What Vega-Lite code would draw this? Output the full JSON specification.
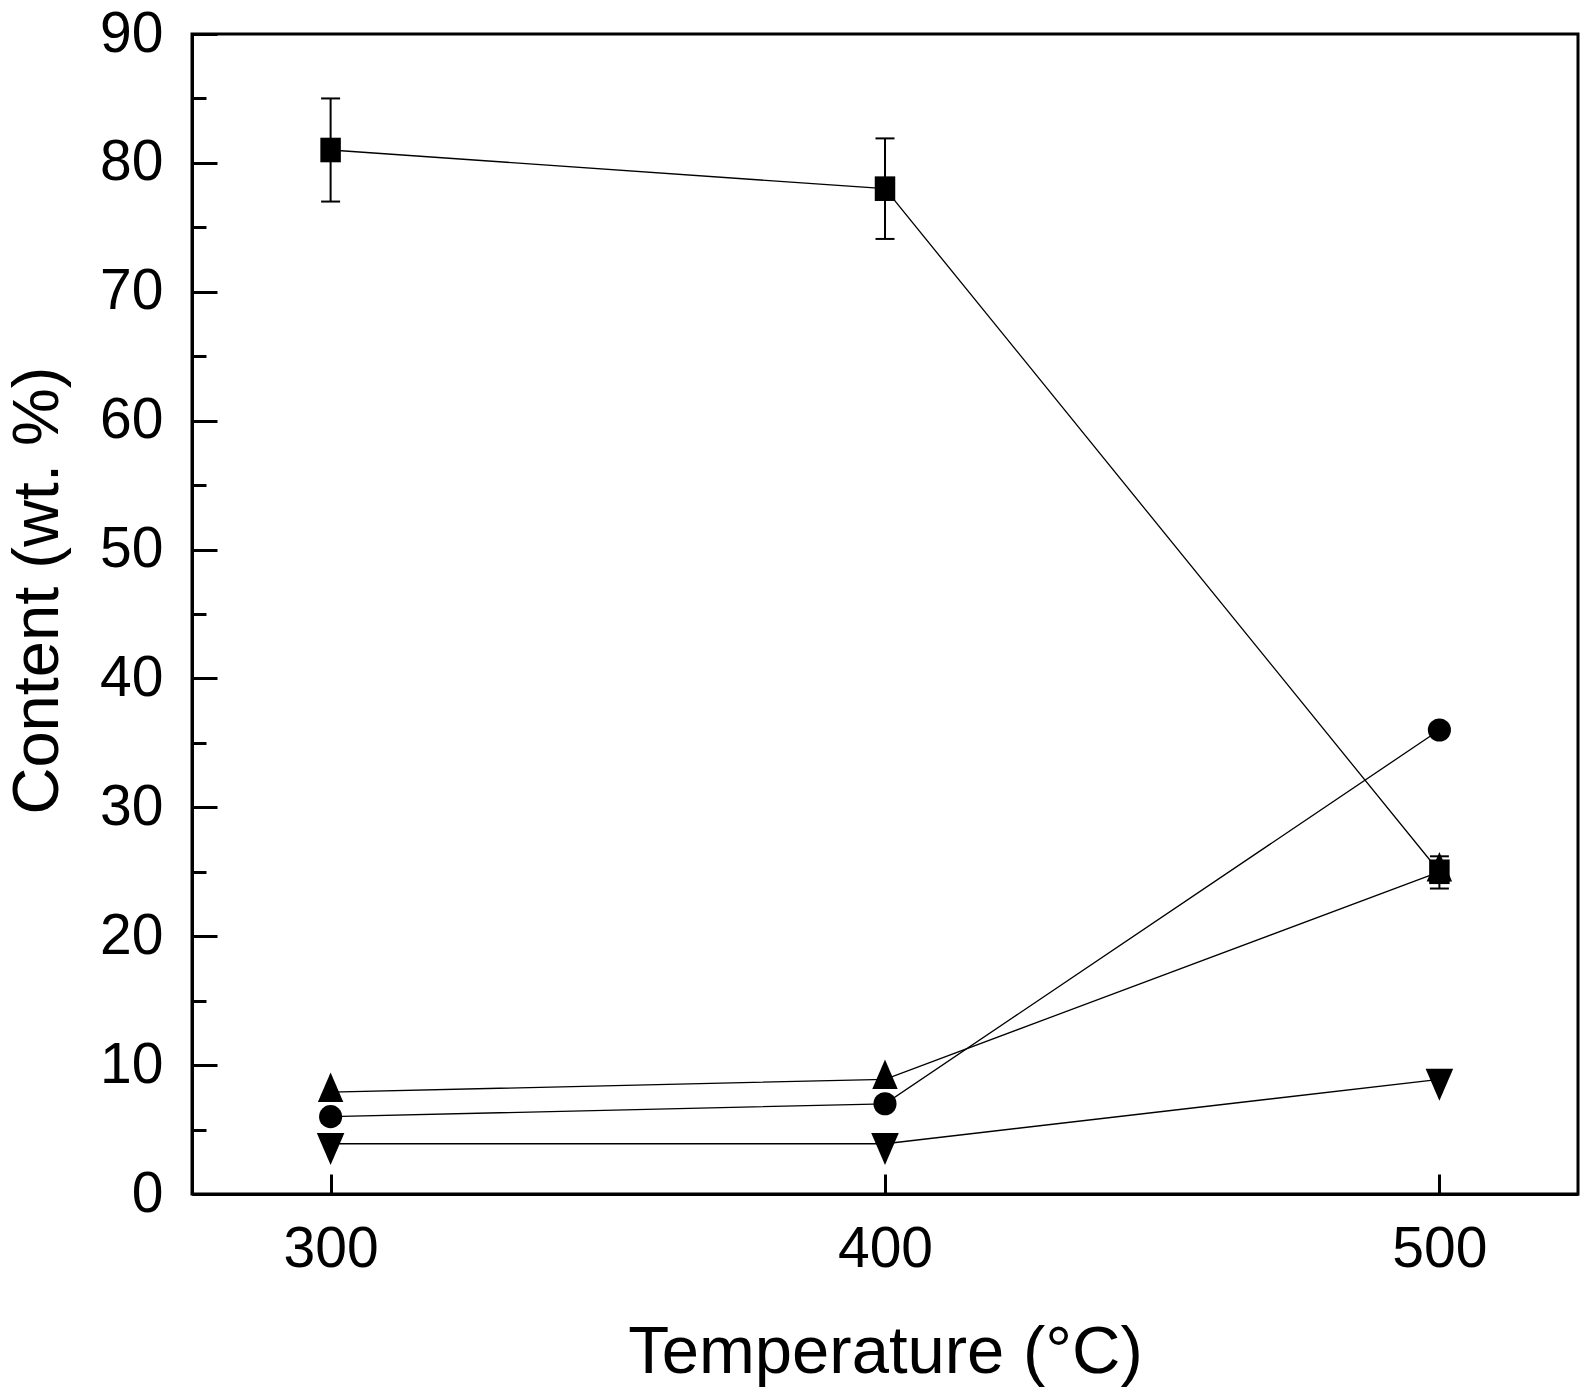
{
  "$schema": "https://vega.github.io/schema/vega-lite/v6.json",
  "width": 1386,
  "height": 1160,
  "autosize": {"type": "none"},
  "padding": {"left": 192, "top": 34, "right": 13, "bottom": 199},
  "background": "white",
  "config": {
    "view": {"stroke": "black", "strokeWidth": 3},
    "font": "Liberation Sans",
    "axis": {
      "grid": false,
      "domainColor": "black",
      "domainWidth": 3,
      "tickColor": "black",
      "tickWidth": 3,
      "labelColor": "black",
      "titleColor": "black",
      "labelFont": "Liberation Sans",
      "titleFont": "Liberation Sans",
      "titleFontWeight": "normal"
    }
  },
  "data": {
    "values": [
      {"temperature": 300, "content": 81, "series": "A", "lo": 77, "hi": 85},
      {"temperature": 400, "content": 78, "series": "A", "lo": 74.1, "hi": 81.9},
      {"temperature": 500, "content": 25, "series": "A", "lo": 23.7, "hi": 26.2},
      {"temperature": 300, "content": 6, "series": "B"},
      {"temperature": 400, "content": 7, "series": "B"},
      {"temperature": 500, "content": 36, "series": "B"},
      {"temperature": 300, "content": 7.9, "series": "C"},
      {"temperature": 400, "content": 8.9, "series": "C"},
      {"temperature": 500, "content": 25, "series": "C"},
      {"temperature": 300, "content": 3.9, "series": "D"},
      {"temperature": 400, "content": 3.9, "series": "D"},
      {"temperature": 500, "content": 8.9, "series": "D"}
    ]
  },
  "encoding": {
    "x": {
      "field": "temperature",
      "type": "quantitative",
      "scale": {"domain": [275, 525], "nice": false, "zero": false},
      "axis": {
        "title": "Temperature (°C)",
        "values": [300, 400, 500],
        "tickSize": -20,
        "labelPadding": 47,
        "labelFontSize": 57,
        "titleFontSize": 67,
        "titlePadding": 42
      }
    },
    "y": {
      "field": "content",
      "type": "quantitative",
      "scale": {"domain": [0, 90], "nice": false},
      "axis": {
        "title": "Content (wt. %)",
        "values": [0, 5, 10, 15, 20, 25, 30, 35, 40, 45, 50, 55, 60, 65, 70, 75, 80, 85, 90],
        "labelExpr": "datum.value % 10 === 0 ? datum.label : ''",
        "tickSize": {"condition": {"test": "datum.value % 10 !== 0", "value": -14}, "value": -25},
        "labelPadding": 54,
        "labelFontSize": 57,
        "titleFontSize": 65,
        "titlePadding": 28,
        "titleY": 556
      }
    }
  },
  "layer": [
    {
      "mark": {"type": "line", "color": "black", "strokeWidth": 1.3},
      "encoding": {"detail": {"field": "series"}}
    },
    {
      "transform": [{"filter": "isValid(datum.lo)"}],
      "mark": {"type": "rule", "color": "black", "strokeWidth": 2},
      "encoding": {
        "y": {"field": "lo", "type": "quantitative", "title": "Content (wt. %)"},
        "y2": {"field": "hi"}
      }
    },
    {
      "transform": [{"filter": "isValid(datum.lo)"}],
      "mark": {"type": "tick", "orient": "horizontal", "color": "black", "thickness": 2, "size": 19, "opacity": 1},
      "encoding": {
        "y": {"field": "lo", "type": "quantitative", "title": "Content (wt. %)"}
      }
    },
    {
      "transform": [{"filter": "isValid(datum.hi)"}],
      "mark": {"type": "tick", "orient": "horizontal", "color": "black", "thickness": 2, "size": 19, "opacity": 1},
      "encoding": {
        "y": {"field": "hi", "type": "quantitative", "title": "Content (wt. %)"}
      }
    },
    {
      "mark": {"type": "point", "filled": true, "opacity": 1, "color": "black"},
      "encoding": {
        "shape": {
          "field": "series",
          "scale": {
            "domain": ["A", "B", "C", "D"],
            "range": [
              "M-1,-1.2L1,-1.2L1,1.2L-1,1.2Z",
              "circle",
              "M0,-1.55L-1,0.77L1,0.77Z",
              "M-1,-0.77L1,-0.77L0,1.55Z"
            ]
          },
          "legend": null
        },
        "size": {
          "field": "series",
          "type": "nominal",
          "scale": {"domain": ["A", "B", "C", "D"], "range": [420, 760, 760, 760]},
          "legend": null
        }
      }
    }
  ]
}
